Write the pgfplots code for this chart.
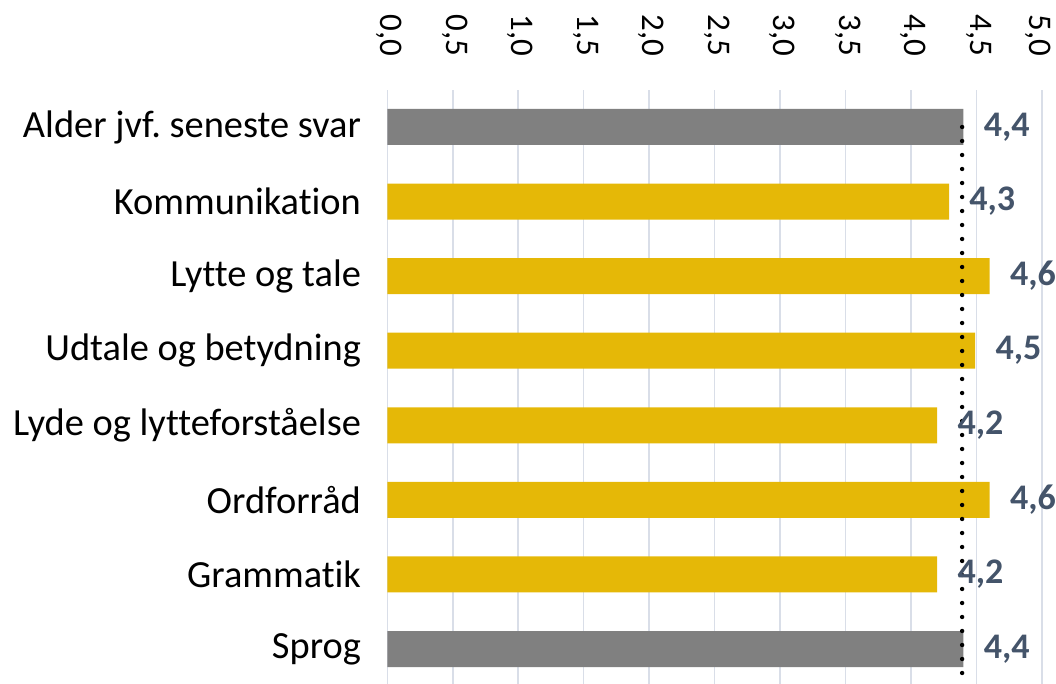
\documentclass[border=0pt]{standalone}
\usepackage{pgfplots}
\pgfplotsset{compat=1.18}
\usepackage{pgfplotstable}
\usepackage{fontspec}
\setmainfont{Carlito}[Ligatures={NoCommon}]
\definecolor{barGray}{RGB}{128,128,128}
\definecolor{barGold}{RGB}{229,184,7}
\definecolor{lblBlue}{RGB}{68,84,106}
\definecolor{gridC}{RGB}{217,222,232}

\pgfplotstableread{
y val
7 4.40
0 4.40
}\graydata
\pgfplotstableread{
y val
6 4.29
5 4.60
4 4.49
3 4.20
2 4.60
1 4.20
}\golddata

\begin{document}
\frenchspacing
\begin{tikzpicture}
\begin{axis}[
 scale only axis, width=327.35pt, height=298.3pt,
 xmin=0, xmax=5, ymin=-0.5, ymax=7.5,
 axis line style={draw=none},
 major tick style={draw=none},
 xtick={0,0.5,...,4.5},
 extra x ticks={5},
 extra x tick style={grid=major, xticklabel style={yshift=-3pt}},
 xticklabel pos=upper,
 xticklabel={\pgfmathprintnumber[fixed,fixed zerofill,precision=1,use comma,assume math mode=true]{\tick}},
 xticklabel style={rotate=-90, anchor=east, inner sep=0pt, font=\fontsize{16.5}{19}\selectfont, text height=0.63em, text depth=0pt},
 xticklabel shift=16.5pt,
 ytick={0,...,7},
 yticklabels={Sprog, Grammatik, Ordforråd, Lyde og lytteforståelse, Udtale og betydning, Lytte og tale, Kommunikation, Alder jvf.\ seneste svar},
 yticklabel style={font=\fontsize{19.2}{22}\selectfont, inner sep=0pt, xshift=-13pt},
 xmajorgrids, grid style={gridC, line width=0.75pt},
 bar width=18pt,
]
\addplot[xbar, bar shift=0pt, fill=barGray, draw=none, point meta=x,
  nodes near coords={\pgfmathprintnumber[fixed,fixed zerofill,precision=1,use comma,assume math mode=true]{\pgfplotspointmeta}},
  nodes near coords style={font=\bfseries\fontsize{18}{20}\selectfont, text=lblBlue, anchor=west, inner sep=0pt, xshift=10pt}]
  table[x=val, y=y]{\graydata};
\addplot[xbar, bar shift=0pt, fill=barGold, draw=none, point meta=x,
  nodes near coords={\pgfmathprintnumber[fixed,fixed zerofill,precision=1,use comma,assume math mode=true]{\pgfplotspointmeta}},
  nodes near coords style={font=\bfseries\fontsize{18}{20}\selectfont, text=lblBlue, anchor=west, inner sep=0pt, xshift=10pt}]
  table[x=val, y=y]{\golddata};
\addplot[black, line width=2.2pt, dash pattern=on 0pt off 7pt, line cap=round] coordinates {(4.39,7) (4.39,-0.45)};
\end{axis}
\pgfresetboundingbox
\useasboundingbox (-193.65pt,1.15pt) rectangle (334.35pt,343.15pt);
\end{tikzpicture}
\end{document}
